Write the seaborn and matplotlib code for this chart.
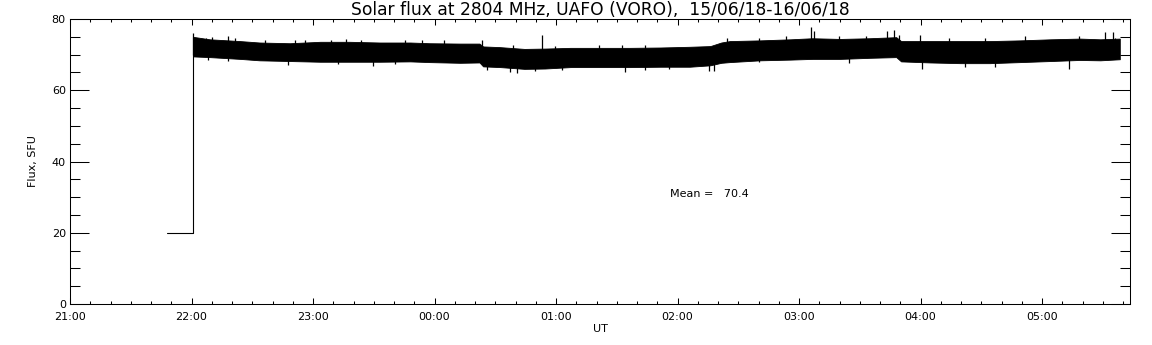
import matplotlib
matplotlib.use("Agg")
import matplotlib.pyplot as plt
import seaborn as sns
from matplotlib.ticker import MultipleLocator

# time axis: hours after 21:00 UT on 15/06/18
pre_time = [0.795, 1.012, 1.012]
pre_flux = [20.0, 20.0, 75.0]

band_time = [1.012, 1.15, 1.40, 1.56, 1.81, 2.06, 2.30, 2.55, 2.80, 2.96,
             3.21, 3.37, 3.40, 3.54, 3.74, 3.91, 4.12, 4.36, 4.61, 4.86,
             5.10, 5.27, 5.36, 5.43, 5.68, 5.93, 6.11, 6.34, 6.58, 6.80,
             6.84, 7.08, 7.33, 7.57, 7.82, 8.07, 8.31, 8.48, 8.64]
band_top = [75.0, 74.3, 73.8, 73.4, 73.2, 73.6, 73.6, 73.4, 73.4, 73.2,
            73.1, 73.1, 72.3, 72.1, 71.6, 71.7, 71.9, 71.9, 71.9, 72.0,
            72.2, 72.4, 73.4, 73.8, 74.0, 74.3, 74.6, 74.4, 74.6, 74.9,
            73.8, 73.8, 73.8, 73.8, 74.0, 74.3, 74.5, 74.3, 74.5]
band_bottom = [69.5, 69.3, 68.8, 68.4, 68.2, 68.0, 68.0, 68.0, 68.1, 67.9,
               67.7, 67.8, 66.7, 66.5, 66.0, 66.1, 66.5, 66.5, 66.5, 66.6,
               66.6, 67.0, 67.7, 67.9, 68.4, 68.6, 68.8, 68.8, 69.1, 69.3,
               68.1, 67.8, 67.6, 67.6, 67.9, 68.2, 68.5, 68.4, 68.7]

# spikes above the noise band (time, peak flux)
up_time = [1.012, 1.122, 1.169, 1.30, 1.356, 1.603, 1.850, 1.932, 2.152,
           2.275, 2.399, 2.755, 2.893, 3.074, 3.389, 3.650, 3.885, 3.993,
           4.350, 4.542, 4.734, 5.409, 5.670, 5.889, 6.10, 6.12, 6.329,
           6.548, 6.726, 6.78, 6.820, 6.998, 7.231, 7.533, 7.862, 8.301,
           8.521, 8.58, 8.603]
up_flux = [76.0, 74.8, 75.0, 75.2, 74.6, 74.1, 74.1, 74.1, 74.2,
           74.4, 74.1, 74.1, 74.1, 74.1, 74.1, 72.7, 75.6, 72.5,
           72.7, 72.7, 72.7, 74.8, 74.8, 75.1, 77.8, 76.5, 75.1,
           75.1, 76.6, 76.9, 75.5, 75.5, 74.8, 74.6, 75.1, 75.1,
           76.4, 76.3, 74.6]

# spikes below the noise band (time, dip flux)
down_time = [1.136, 1.301, 1.795, 2.206, 2.495, 2.673, 3.430, 3.62, 3.677,
             3.828, 4.048, 4.569, 4.734, 4.929, 5.258, 5.30, 5.670, 6.411,
             7.012, 7.369, 7.616, 8.219]
down_flux = [68.5, 68.2, 67.1, 67.3, 66.9, 67.3, 65.7, 65.2, 64.8,
             65.3, 65.7, 65.0, 65.7, 66.1, 65.3, 65.3, 68.0, 67.6,
             66.1, 66.6, 66.6, 66.1]

hour_labels = ["21:00", "22:00", "23:00", "00:00", "01:00",
               "02:00", "03:00", "04:00", "05:00"]
mean_flux = 70.4

sns.set_style("ticks")
plt.rcParams['font.family'] = ['DejaVu Sans']
plt.rcParams.update({'text.color': 'black', 'axes.labelcolor': 'black',
                     'xtick.color': 'black', 'ytick.color': 'black'})

fig = plt.figure(figsize=(11.52, 3.45), dpi=100)
ax = fig.add_axes([70 / 1152, 1 - 304 / 345, 1060 / 1152, 285 / 345])

sns.lineplot(x=pre_time, y=pre_flux, ax=ax, color='black', lw=0.8,
             sort=False, estimator=None)
ax.fill_between(band_time, band_bottom, band_top, color='black', lw=0.6)
ax.vlines(up_time, 70, up_flux, color='black', lw=0.9)
ax.vlines(down_time, down_flux, 70, color='black', lw=0.9)

ax.set_xlim(0, 8.724)
ax.set_ylim(0, 80)
ax.set_xticks(range(len(hour_labels)))
ax.set_xticklabels(hour_labels)
ax.xaxis.set_minor_locator(MultipleLocator(1 / 6))
ax.yaxis.set_major_locator(MultipleLocator(20))
ax.yaxis.set_minor_locator(MultipleLocator(5))

ax.tick_params(axis='x', which='major', direction='in', length=4.5, width=0.75,
               top=True, bottom=True, labelsize=8, pad=6)
ax.tick_params(axis='x', which='minor', direction='in', length=2.2, width=0.75,
               top=True, bottom=True)
ax.tick_params(axis='y', which='major', direction='in', length=14, width=0.75,
               left=True, right=True, labelsize=8, pad=3)
ax.tick_params(axis='y', which='minor', direction='in', length=7.5, width=0.75,
               left=True, right=True)
for s in ax.spines.values():
    s.set_visible(True)
    s.set_linewidth(0.75)
    s.set_color('black')

ax.set_xlabel("UT", fontsize=8, labelpad=1)
ax.set_ylabel("Flux, SFU", fontsize=8, labelpad=10)
ax.set_title("Solar flux at 2804 MHz, UAFO (VORO),  15/06/18-16/06/18",
             fontsize=12.3, pad=3)
ax.text(4.94, 30.9, "Mean =   %.1f" % mean_flux, fontsize=8, va='center')

fig.savefig("out.png", dpi=100)
